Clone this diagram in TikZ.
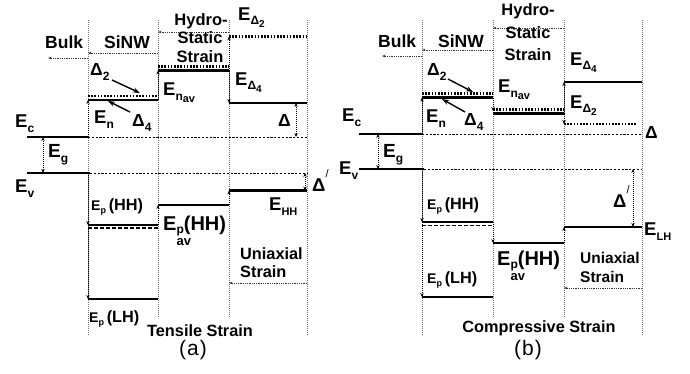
\documentclass[tikz,border=0pt]{standalone}
\usepackage{fontspec}
\setmainfont{Liberation Sans}
\usetikzlibrary{arrows.meta}
\newcommand\lowsub[3][0.3em]{\raisebox{-#1}{\fontsize{#2}{#2}\selectfont #3}}
\newcommand\primemark{\raisebox{0.72em}{\fontsize{11}{11}\selectfont\mdseries /}}
\newcommand\smallE[1]{{\fontsize{14}{14}\selectfont E\lowsub[0.25em]{9}{#1}}}
\begin{document}
\begin{tikzpicture}[x=1pt,y=-1pt,
  level/.style={line width=2.6pt},
  dlevel/.style={line width=2.2pt, dash pattern=on 1.6pt off 1.6pt},
  hlevel/.style={line width=1.8pt, dash pattern=on 4pt off 2pt},
  ext/.style={line width=0.7pt, dash pattern=on 2.2pt off 1.6pt},
  vgrid/.style={line width=0.5pt, black!55, dash pattern=on 0.8pt off 1.2pt},
  darr/.style={line width=0.8pt, dash pattern=on 1pt off 1pt, -{Stealth[length=4pt,width=3.4pt]}},
  ddarr/.style={line width=0.8pt, dash pattern=on 1pt off 1pt, {Stealth[length=4pt,width=3.4pt]}-{Stealth[length=4pt,width=3.4pt]}},
  larr/.style={line width=0.6pt, black!80, dash pattern=on 0.8pt off 1pt, -{Stealth[length=3.5pt,width=2.6pt]}},
  parr/.style={line width=1.4pt, -{Stealth[length=7pt,width=5pt]}},
  tlab/.style={font=\fontsize{17.5}{19}\selectfont\bfseries, inner sep=0pt},
  thyd/.style={font=\fontsize{16.5}{18}\selectfont\bfseries, inner sep=0pt},
  tsm/.style={font=\fontsize{16.3}{18}\selectfont\bfseries, inner sep=0pt},
  tdel/.style={font=\fontsize{17.5}{19}\selectfont\bfseries, inner sep=0pt},
  tbig/.style={font=\fontsize{18.5}{20}\selectfont\bfseries, inner sep=0pt},
  thuge/.style={font=\fontsize{20}{22}\selectfont\bfseries, inner sep=0pt},
  captext/.style={font=\fontsize{21}{23}\selectfont, inner sep=0pt}
]
\useasboundingbox (0,0) rectangle (690,373);

%================ panel (a) ================
\foreach \x/\b in {88/335,158/317,229/317,307/335}
  \draw[vgrid] (\x,20) -- (\x,\b);

% conduction side
\draw[level] (27,137) coordinate (aEcL) -- (88,137) coordinate (aEcR);
\draw[level] (27,173) coordinate (aEvL) -- (90,173) coordinate (aEvR);
\draw[ext] (aEcR) -- (307,137) coordinate (aEcX);
\draw[ext] (aEvR) -- (307,173) coordinate (aEvX);
\draw[level] (88,100) coordinate (aNL) -- (158,100) coordinate (aNR);
\draw[dlevel] (88,96) -- (158,96);
\draw[level] (158,70.5) coordinate (aHL) -- (229,70.5) coordinate (aHR);
\draw[dlevel] (158,66.5) -- (229,66.5);
\draw[dlevel] (229,36.5) coordinate (aD2L) -- (307,36.5);
\draw[level] (229,103) coordinate (aD4L) -- (307,103);
% valence side
\draw[level] (88,225) coordinate (aPHL) -- (158,225);
\draw[hlevel] (88,228) -- (158,228);
\draw[level] (88,299) coordinate (aPLL) -- (158,299);
\draw[level] (158,205) coordinate (aPavL) -- (229,205);
\draw[level] (229,190.5) coordinate (aHHL) -- (307,190.5);

% dotted arrows
\draw[ddarr] (43,137) -- (43,173);
\draw[darr] (aEcR) -- (aNL);
\draw[darr] (aNR) -- (aHL);
\draw[darr] (aHR) -- (aD2L);
\draw[darr] (aHR) -- (aD4L);
\draw[ddarr] (296,103) -- (296,137);
\draw[ddarr] (305,173) -- (305,190.5);
\draw[darr] (88,173) -- (aPHL);
\draw[darr] (aPHL) -- (aPLL);
\draw[darr] (158,225) -- (aPavL);
\draw[darr] (229,205) -- (aHHL);

% label arrows
\draw[larr] (88,58) -- (48,58);
\draw[larr] (158,53) -- (88,53);
\draw[larr] (229,32) -- (158,32);
\draw[larr] (307,283) -- (229,283);
\draw[parr] (112,80) -- (140,93);
\draw[parr] (130,112) -- (108,101);

% texts
\node[tlab, anchor=base west] (aBulk) at (45,48) {Bulk};
\node[tlab, anchor=base west] (aSiNW) at (104,48) {SiNW};
\node[thyd, anchor=base] (aHy1) at (201,25) {Hydro-};
\node[thyd, anchor=base] (aHy2) at (200,43) {Static};
\node[thyd, anchor=base] (aHy3) at (200,62) {Strain};
\node[tbig, anchor=base west] (aED2) at (238,20) {E\lowsub[0.25em]{12}{Δ\lowsub[0.2em]{10}{2}}};
\node[tbig, anchor=base west] (aED4) at (235,85) {E\lowsub[0.25em]{12}{Δ\lowsub[0.2em]{10}{4}}};
\node[tdel, anchor=base west] (aDel) at (278,126) {Δ};
\node[tdel, anchor=base west] (aD2) at (90,75) {Δ\lowsub{12}{2}};
\node[tbig, anchor=base west] (aEn) at (94,123) {E\lowsub{12}{n}};
\node[tdel, anchor=base west] (aD4) at (132,126) {Δ\lowsub{12}{4}};
\node[tbig, anchor=base west] (aEnav) at (163,95) {E\lowsub{12}{n\lowsub[0.15em]{11}{av}}};
\node[tbig, anchor=base west] (aEc) at (15,127) {E\lowsub{12}{c}};
\node[thuge, font=\fontsize{19}{21}\selectfont\bfseries, anchor=base west] (aEg) at (48,157) {E\lowsub{12}{g}};
\node[tbig, anchor=base west] (aEv) at (15,192) {E\lowsub{12}{v}};
\node[tbig, anchor=base west] (aDp) at (312,191) {Δ\primemark};
\node[tsm, anchor=base west] (aEpHH) at (91,210) {\smallE{p}\,(HH)};
\node[thuge, anchor=base west] (aEpav) at (163,230) {E\rlap{\lowsub[0.78em]{13}{av}}\lowsub[0.18em]{12}{p}(HH)};
\node[tbig, anchor=base west] (aEHH) at (269,210) {E\lowsub{11}{HH}};
\node[tsm, anchor=base west] (aUni1) at (240,259) {Uniaxial};
\node[tsm, anchor=base west] (aUni2) at (240,277) {Strain};
\node[tsm, anchor=base west] (aEpLH) at (89,322) {\smallE{p}\,(LH)};
\node[tsm, anchor=base] (aTen) at (200,336) {Tensile Strain};
\node[captext] (aCap) at (193,350) {(\kern1pt a\kern1pt)};

%================ panel (b) ================
\foreach \x/\b in {422/335,493/317,564/317,642/335}
  \draw[vgrid] (\x,20) -- (\x,\b);

\draw[level] (359,134) coordinate (bEcL) -- (422,134) coordinate (bEcR);
\draw[level] (359,169) coordinate (bEvL) -- (424,169) coordinate (bEvR);
\draw[ext] (bEcR) -- (642,134) coordinate (bEcX);
\draw[ext] (bEvR) -- (642,169) coordinate (bEvX);
\draw[level] (422,97.5) coordinate (bNL) -- (493,97.5) coordinate (bNR);
\draw[dlevel] (422,93.5) -- (493,93.5);
\draw[level] (493,113.5) coordinate (bHL) -- (564,113.5) coordinate (bHR);
\draw[dlevel] (493,109.5) -- (564,109.5);
\draw[level] (564,82) coordinate (bD4L) -- (642,82);
\draw[dlevel] (564,124) coordinate (bD2L) -- (637,124);
\draw[level] (422,222) coordinate (bPHL) -- (493,222) coordinate (bPHR);
\draw[hlevel] (422,225.5) -- (493,225.5);
\draw[level] (422,297) coordinate (bPLL) -- (493,297);
\draw[level] (493,243) coordinate (bPavL) -- (564,243) coordinate (bPavR);
\draw[level] (564,227) coordinate (bLHL) -- (642,227);

\draw[ddarr] (378,134) -- (378,169);
\draw[darr] (bEcR) -- (bNL);
\draw[darr] (bNR) -- (493,111);
\draw[darr] (bHR) -- (bD4L);
\draw[darr] (bHR) -- (bD2L);
\draw[darr] (422,169) -- (bPHL);
\draw[darr] (bPHL) -- (bPLL);
\draw[darr] (bPHR) -- (bPavL);
\draw[darr] (bPavR) -- (bLHL);
\draw[ddarr] (633,169) -- (633,227);

\draw[larr] (422,56) -- (382,56);
\draw[larr] (493,50) -- (422,50);
\draw[larr] (564,28) -- (493,28);
\draw[larr] (642,288) -- (564,288);
\draw[parr] (448,79) -- (473,92);
\draw[parr] (465,112) -- (442,99);

\node[tlab, anchor=base west] (bBulk) at (378,47) {Bulk};
\node[tlab, anchor=base west] (bSiNW) at (438,47) {SiNW};
\node[thyd, anchor=base] (bHy1) at (528,15) {Hydro-};
\node[thyd, anchor=base] (bHy2) at (528,38) {Static};
\node[thyd, anchor=base] (bHy3) at (528,60) {Strain};
\node[tbig, anchor=base west] (bED4) at (570,65) {E\lowsub[0.25em]{12}{Δ\lowsub[0.2em]{10}{4}}};
\node[tbig, anchor=base west] (bED2) at (570,108) {E\lowsub[0.25em]{12}{Δ\lowsub[0.2em]{10}{2}}};
\node[tdel, anchor=base west] (bDel) at (645,138) {Δ};
\node[tdel, anchor=base west] (bD2) at (427,75) {Δ\lowsub{12}{2}};
\node[tbig, anchor=base west] (bEn) at (426,122) {E\lowsub{12}{n}};
\node[tdel, anchor=base west] (bD4) at (464,125) {Δ\lowsub{12}{4}};
\node[tbig, anchor=base west] (bEnav) at (498,92) {E\lowsub{12}{n\lowsub[0.15em]{11}{av}}};
\node[tbig, anchor=base west] (bEc) at (342,121) {E\lowsub{12}{c}};
\node[thuge, font=\fontsize{19}{21}\selectfont\bfseries, anchor=base west] (bEg) at (383,157) {E\lowsub{12}{g}};
\node[tbig, anchor=base west] (bEv) at (339,174) {E\lowsub{12}{v}};
\node[tbig, anchor=base west] (bDp) at (613,207) {Δ\primemark};
\node[tbig, anchor=base west] (bELH) at (644,235) {E\lowsub{11}{LH}};
\node[tsm, anchor=base west] (bEpHH) at (427,209) {\smallE{p}\,(HH)};
\node[thuge, anchor=base west] (bEpav) at (497,265) {E\rlap{\lowsub[0.78em]{13}{av}}\lowsub[0.18em]{12}{p}(HH)};
\node[tsm, anchor=base west] (bEpLH) at (427,283) {\smallE{p}\,(LH)};
\node[tsm, font=\fontsize{15.5}{17}\selectfont\bfseries, anchor=base west] (bUni1) at (580,263) {Uniaxial};
\node[tsm, font=\fontsize{15.5}{17}\selectfont\bfseries, anchor=base west] (bUni2) at (580,282) {Strain};
\node[tsm, anchor=base] (bCom) at (539,332) {Compressive Strain};
\node[captext] (bCap) at (528,350) {(\kern1pt b\kern1pt)};
\end{tikzpicture}
\end{document}
